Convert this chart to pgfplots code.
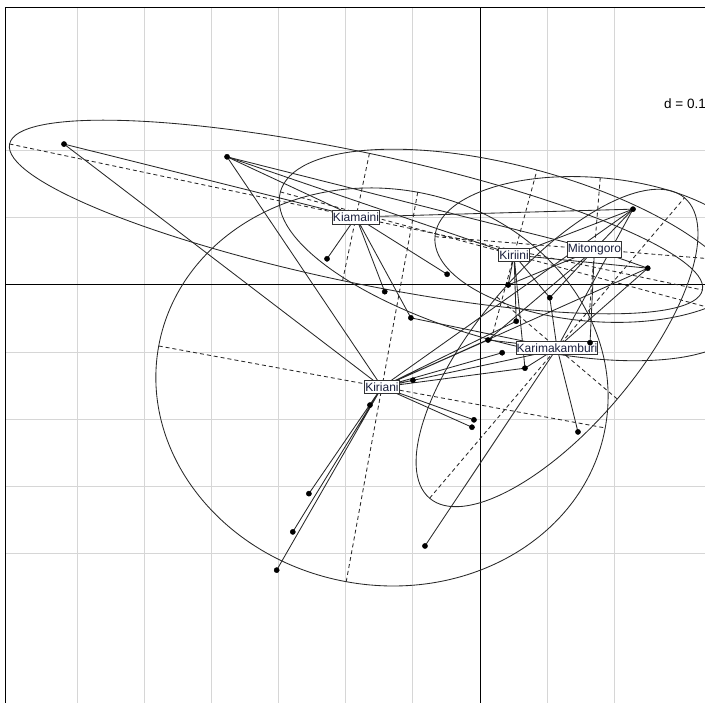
\documentclass[border=0pt]{standalone}
\usepackage{pgfplots}
\pgfplotsset{compat=1.18}
\usepackage{fontspec}
\setmainfont{Liberation Sans}
\definecolor{gridc}{RGB}{214,214,214}
\definecolor{linec}{RGB}{40,40,40}
\definecolor{labc}{RGB}{25,30,60}
\begin{document}
\begin{tikzpicture}
\begin{axis}[
  at={(0pt,0pt)}, anchor=south west,
  scale only axis, width=700pt, height=695pt,
  xmin=-0.7079, xmax=0.3353, ymin=-0.6230, ymax=0.4128,
  axis x line*=top, axis y line*=left,
  axis line style={black, line width=1pt},
  xtick={-0.6,-0.5,-0.4,-0.3,-0.2,-0.1,0.1,0.2},
  ytick={-0.4,-0.3,-0.2,-0.1,0.1,0.2},
  xticklabels={}, yticklabels={},
  major tick length=0pt,
  grid=major, grid style={gridc, line width=1pt},
  extra x ticks={0}, extra y ticks={0},
  extra x tick labels={}, extra y tick labels={},
  extra tick style={grid style={black, line width=1pt}, major tick length=0pt},
  unbounded coords=jump,
  clip=true,
  star/.style={linec, solid, mark=none, line width=0.85pt},
  dax/.style={linec, mark=none, line width=0.85pt, dash pattern=on 4pt off 3pt},
]
% ---------- ellipses (centre, semi-axes in axis units, angle in degrees)
\draw[linec, line width=0.85pt, rotate around={-11.9:(axis cs:-0.1848,0.1013)}] (axis cs:-0.1848,0.1013) ellipse [x radius=0.5276, y radius=0.0969];
\draw[linec, line width=0.85pt, rotate around={-15.1:(axis cs:0.0507,0.0447)}] (axis cs:0.0507,0.0447) ellipse [x radius=0.3607, y radius=0.1311];
\draw[linec, line width=0.85pt, rotate around={-4.6:(axis cs:0.1706,0.0529)}] (axis cs:0.1706,0.0529) ellipse [x radius=0.2385, y radius=0.1073];
\draw[linec, line width=0.85pt, rotate around={49.7:(axis cs:0.1148,-0.0939)}] (axis cs:0.1148,-0.0939) ellipse [x radius=0.2936, y radius=0.1177];
\draw[linec, line width=0.85pt, rotate around={-10.4:(axis cs:-0.1461,-0.1520)}] (axis cs:-0.1461,-0.1520) ellipse [x radius=0.3383, y radius=0.2951];
% ---------- ellipse axes (dashed)
\addplot[dax] coordinates {(-0.7011,0.2101) (0.3315,-0.0075) (nan,nan) (-0.2048,0.0065) (-0.1648,0.1961)};
\addplot[dax] coordinates {(-0.2976,0.1387) (0.3990,-0.0493) (nan,nan) (0.0165,-0.0819) (0.0849,0.1713)};
\addplot[dax] coordinates {(-0.0671,0.0720) (0.4083,0.0338) (nan,nan) (0.1620,-0.0541) (0.1792,0.1599)};
\addplot[dax] coordinates {(-0.0751,-0.3178) (0.3047,0.1300) (nan,nan) (0.2046,-0.1700) (0.0250,-0.0178)};
\addplot[dax] coordinates {(-0.4789,-0.0909) (0.1867,-0.2131) (nan,nan) (-0.1994,-0.4423) (-0.0928,0.1383)};
% ---------- stars
% Kiamaini
\addplot[star] coordinates {(-0.1848,0.1013) (-0.620,0.210) (nan,nan)
 (-0.1848,0.1013) (-0.377,0.191) (nan,nan) (-0.1848,0.1013) (-0.228,0.039) (nan,nan)
 (-0.1848,0.1013) (-0.142,-0.010) (nan,nan) (-0.1848,0.1013) (-0.049,0.016) (nan,nan)
 (-0.1848,0.1013) (-0.103,-0.049) (nan,nan) (-0.1848,0.1013) (0.228,0.113)};
% Kiriini
\addplot[star] coordinates {(0.0507,0.0447) (-0.377,0.191) (nan,nan)
 (0.0507,0.0447) (0.042,0.000) (nan,nan) (0.0507,0.0447) (0.054,-0.054) (nan,nan)
 (0.0507,0.0447) (0.104,-0.019) (nan,nan) (0.0507,0.0447) (0.228,0.113) (nan,nan)
 (0.0507,0.0447) (0.250,0.025) (nan,nan) (0.0507,0.0447) (0.067,-0.124)};
% Mitongoro
\addplot[star] coordinates {(0.1706,0.0529) (-0.377,0.191) (nan,nan)
 (0.1706,0.0529) (0.228,0.113) (nan,nan) (0.1706,0.0529) (0.250,0.025) (nan,nan)
 (0.1706,0.0529) (0.042,0.000) (nan,nan) (0.1706,0.0529) (0.164,-0.086) (nan,nan)
 (0.1706,0.0529) (0.012,-0.082) (nan,nan) (0.1706,0.0529) (0.104,-0.019)};
% Karimakamburi
\addplot[star] coordinates {(0.1148,-0.0939) (0.228,0.113) (nan,nan)
 (0.1148,-0.0939) (0.250,0.025) (nan,nan) (0.1148,-0.0939) (0.146,-0.219) (nan,nan)
 (0.1148,-0.0939) (0.067,-0.124) (nan,nan) (0.1148,-0.0939) (0.012,-0.082) (nan,nan)
 (0.1148,-0.0939) (0.104,-0.019) (nan,nan) (0.1148,-0.0939) (-0.103,-0.049) (nan,nan)
 (0.1148,-0.0939) (-0.082,-0.389)};
% Kiriani
\addplot[star] coordinates {(-0.1461,-0.1520) (-0.620,0.210) (nan,nan)
 (-0.1461,-0.1520) (-0.377,0.191) (nan,nan) (-0.1461,-0.1520) (-0.100,-0.142) (nan,nan)
 (-0.1461,-0.1520) (-0.009,-0.201) (nan,nan) (-0.1461,-0.1520) (-0.012,-0.212) (nan,nan)
 (-0.1461,-0.1520) (-0.164,-0.179) (nan,nan) (-0.1461,-0.1520) (-0.255,-0.311) (nan,nan)
 (-0.1461,-0.1520) (-0.279,-0.368) (nan,nan) (-0.1461,-0.1520) (-0.303,-0.425) (nan,nan)
 (-0.1461,-0.1520) (0.012,-0.082) (nan,nan) (-0.1461,-0.1520) (0.033,-0.101) (nan,nan)
 (-0.1461,-0.1520) (0.067,-0.124) (nan,nan) (-0.1461,-0.1520) (0.054,-0.054) (nan,nan)
 (-0.1461,-0.1520) (0.228,0.113) (nan,nan) (-0.1461,-0.1520) (0.250,0.025) (nan,nan)
 (-0.1461,-0.1520) (0.164,-0.086)};
% ---------- points
\addplot[only marks, mark=*, mark size=2.6pt, black] coordinates {
 (-0.620,0.210) (-0.377,0.191) (-0.228,0.039) (-0.142,-0.010) (-0.049,0.016)
 (-0.103,-0.049) (0.042,0.000) (0.104,-0.019) (0.228,0.113) (0.250,0.025)
 (0.054,-0.054) (0.012,-0.082) (0.033,-0.101) (0.067,-0.124) (-0.100,-0.142)
 (-0.009,-0.201) (-0.012,-0.212) (-0.164,-0.179) (0.146,-0.219) (-0.255,-0.311)
 (-0.279,-0.368) (-0.303,-0.425) (-0.082,-0.389) (0.164,-0.086)};
% ---------- labels
\tikzset{lab/.style={fill=white, draw=black!80, line width=0.8pt, inner xsep=0.5pt, inner ysep=2.5pt, text=labc, font=\fontsize{12}{12}\selectfont}}
\node[lab] at (axis cs:-0.1848,0.1013) {Kiamaini};
\node[lab] at (axis cs:0.0507,0.0447) {Kiriini};
\node[lab] at (axis cs:0.1706,0.0529) {Mitongoro};
\node[lab] at (axis cs:0.1148,-0.0939) {Karimakamburi};
\node[lab] at (axis cs:-0.1461,-0.1520) {Kiriani};
\node[anchor=west, inner sep=0pt, font=\fontsize{13.5}{13.5}\selectfont] at (axis cs:0.2742,0.2697) {d = 0.1};
\end{axis}
\pgfresetboundingbox
\path[use as bounding box] (-5pt,0pt) rectangle (700pt,703pt);
\end{tikzpicture}
\end{document}
